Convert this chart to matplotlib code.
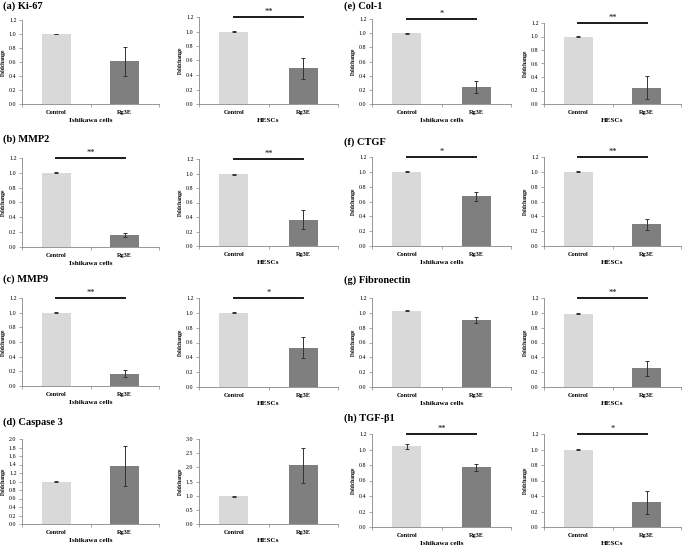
import numpy as np
import matplotlib
matplotlib.use('Agg')
import matplotlib.pyplot as plt

# data
panels = ['(a) Ki-67', '(b) MMP2', '(c) MMP9', '(d) Caspase 3',
          '(e) Col-1', '(f) CTGF', '(g) Fibronectin', '(h) TGF-\u03b21']
groups = ['Control', 'Rg3E']

ishikawa_mean = [[1.00, 0.61], [1.00, 0.16], [1.00, 0.17], [1.00, 1.37],
                 [1.00, 0.24], [1.00, 0.67], [1.03, 0.90], [1.04, 0.77]]
ishikawa_err = [[0.005, 0.21], [0.005, 0.025], [0.005, 0.05], [0.01, 0.47],
                [0.005, 0.08], [0.005, 0.06], [0.01, 0.04], [0.03, 0.045]]
hescs_mean = [[1.00, 0.49], [0.99, 0.36], [1.00, 0.53], [0.98, 2.07],
              [1.00, 0.24], [1.00, 0.29], [0.99, 0.25], [1.00, 0.32]]
hescs_err = [[0.005, 0.14], [0.005, 0.13], [0.005, 0.14], [0.02, 0.63],
             [0.005, 0.17], [0.005, 0.08], [0.005, 0.10], [0.005, 0.15]]
ishikawa_sig = ['', '**', '**', '', '*', '*', '', '**']
hescs_sig = ['**', '**', '*', '', '**', '**', '**', '*']

W, H = 685, 546
plt.rcParams['font.family'] = 'Liberation Serif'
fig = plt.figure(figsize=(W / 100., H / 100.), dpi=100)

# axes boxes in pixels: x0, x1, ytop, ybottom
boxL = [(22, 159, 20, 104), (22, 159, 158, 247), (22, 159, 298, 386), (22, 159, 439, 524),
        (372, 511, 19, 104), (372, 511, 157, 246), (372, 511, 298, 387), (372, 511, 434, 527)]
boxR = [(199, 338, 17, 104), (199, 338, 159, 246), (199, 338, 298, 387), (199, 338, 439, 524),
        (544, 681, 23, 104), (544, 681, 157, 246), (544, 681, 298, 387), (544, 681, 434, 527)]
title_pos = [(3, 1), (3, 134), (3, 274), (3, 417), (344, 1), (344, 137), (344, 275), (344, 413)]

cols = ['#d9d9d9', '#7f7f7f']


def draw(box, mean, err, sig, xlabel, ymax, ystep):
    x0, x1, yt, yb = box
    ax = fig.add_axes([x0 / float(W), 1 - yb / float(H), (x1 - x0) / float(W), (yb - yt) / float(H)])
    x = np.arange(len(groups))
    ax.bar(x, mean, width=0.42, color=cols, zorder=2)
    ax.errorbar(x, mean, yerr=err, fmt='none', ecolor='#333333', elinewidth=0.7,
                capsize=1.3, capthick=0.7, zorder=3)
    ax.set_xlim(-0.5, 1.5)
    ax.set_ylim(0, ymax)
    ax.set_yticks(np.arange(0, ymax + 1e-6, ystep))
    ax.set_yticklabels(['%.1f' % v for v in np.arange(0, ymax + 1e-6, ystep)], fontsize=4.3)
    ax.set_xticks(x)
    ax.set_xticklabels(groups, fontsize=4.5, fontweight='bold')
    ax.set_xticks([-0.5, 0.5, 1.5], minor=True)
    ax.tick_params(axis='x', which='major', length=0, pad=4)
    ax.tick_params(axis='x', which='minor', length=2.5, width=0.5, color='#868686')
    ax.tick_params(axis='y', length=2, width=0.5, color='#868686', pad=2)
    for s in ['top', 'right']:
        ax.spines[s].set_visible(False)
    for s in ['left', 'bottom']:
        ax.spines[s].set_color('#868686')
        ax.spines[s].set_linewidth(0.6)
    ax.set_ylabel('Foldchange', fontsize=4, fontweight='bold', labelpad=2)
    ax.set_xlabel(xlabel, fontsize=5.2, fontweight='bold', labelpad=2.5)
    if sig:
        ax.plot([0, 1], [ymax, ymax], color='#1a1a1a', lw=1.4, clip_on=False, zorder=4)
        ax.annotate(sig, (0.5, ymax), xytext=(0, 0.5), textcoords='offset points',
                    ha='center', va='bottom', fontsize=6, annotation_clip=False)
    return ax


for i in range(8):
    if i == 3:
        draw(boxL[i], ishikawa_mean[i], ishikawa_err[i], ishikawa_sig[i], 'Ishikawa cells', 2.0, 0.2)
        draw(boxR[i], hescs_mean[i], hescs_err[i], hescs_sig[i], 'HESCs', 3.0, 0.5)
    else:
        draw(boxL[i], ishikawa_mean[i], ishikawa_err[i], ishikawa_sig[i], 'Ishikawa cells', 1.2, 0.2)
        draw(boxR[i], hescs_mean[i], hescs_err[i], hescs_sig[i], 'HESCs', 1.2, 0.2)
    tx, ty = title_pos[i]
    fig.text(tx / float(W), 1 - ty / float(H), panels[i], fontsize=7.5, fontweight='bold',
             ha='left', va='top')

fig.savefig('out.png', dpi=100)
